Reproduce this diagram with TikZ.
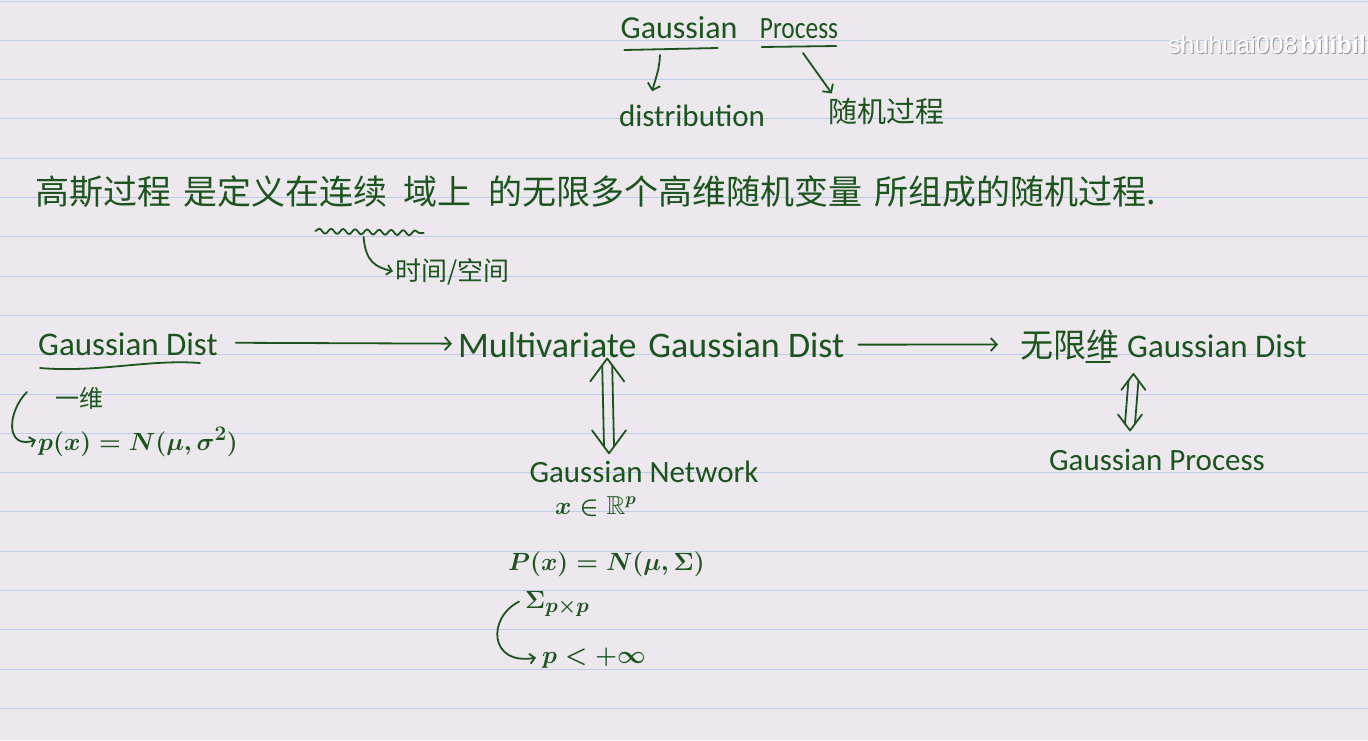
\documentclass[tikz,border=0pt]{standalone}
\usepackage{amssymb}
\usepackage{fontspec}
\setmainfont{Carlito}
\newfontfamily\cjk{Noto Sans CJK SC}
\newfontfamily\wmfont{Liberation Sans}
\usetikzlibrary{arrows.meta,calc,decorations.pathmorphing}
\definecolor{paper}{RGB}{236,232,237}
\definecolor{rulecol}{RGB}{190,204,234}
\definecolor{ink}{RGB}{28,84,30}
\definecolor{wmgray}{RGB}{150,150,150}
\newcommand{\fsz}[1]{\fontsize{#1}{#1}\selectfont}
\newcommand{\updown}[4]{%
  \draw[pen] ($(#1)+(-5,7)$) -- ($(#2)+(-5,-7)$);
  \draw[pen] ($(#1)+(5,7)$) -- ($(#2)+(5,-7)$);
  \draw[pen] ($(#1)+(-#3,#4)$) -- (#1) -- ($(#1)+(#3,#4)$);
  \draw[pen] ($(#2)+(-#3,-#4)$) -- (#2) -- ($(#2)+(#3,-#4)$);
}
\begin{document}
\boldmath
\begin{tikzpicture}[x=1pt,y=-1pt,
  hw/.style={text=ink, inner sep=0pt},
  pen/.style={draw=ink, line width=1.8pt, line cap=round, line join=round},
  tip/.style={-{Straight Barb[length=6pt,width=13pt]}},
  smalltip/.style={-{Straight Barb[length=5pt,width=10pt]}},
]
\useasboundingbox (0,0) rectangle (1368,740);
\fill[paper] (0,0) rectangle (1368,740);
\foreach \k in {0,...,18} \draw[rulecol, line width=1pt] (0,{1+39.3*\k}) -- (1368,{1+39.3*\k});

% watermark
\node[font={\wmfont\fsz{25}}, text=wmgray, anchor=base west, inner sep=0pt] (wms) at (1169,54) {shuhuai008\hspace{3pt}\textbf{bilibili}};
\node[font={\wmfont\fsz{25}}, text=white, anchor=base west, inner sep=0pt] (wm) at (1168,53) {shuhuai008\hspace{3pt}\textbf{bilibili}};

% top: Gaussian Process
\node[hw, font=\fsz{32}, anchor=base] (gauss) at (679,38) {Gaussian};
\node[hw, font=\fsz{31}, anchor=base] (proc) at (799,38) {\scalebox{0.82}[1]{Process}};
\node[hw, font=\fsz{31}, anchor=base] (dist) at (692,126) {distribution};
\node[hw, font={\cjk\fsz{29}}, anchor=base] (sjgc) at (886,122) {随机过程};
\draw[pen] ($(gauss.base west)+(4,12)$) -- ($(gauss.base east)+(-20,10)$);
\draw[pen] ($(proc.base west)+(2,9)$) -- ($(proc.base east)+(-2,8)$);
\draw[pen,tip] ($(gauss.base)+(-19,17)$) .. controls ($(gauss.base)+(-20,30)$) .. ($(dist.north)+(-40,-13)$);
\draw[pen,tip] ($(proc.base)+(4,15)$) -- ($(sjgc.north west)+(4,-4)$);

% sentence
\node[hw, font={\cjk\fsz{34}}, anchor=base west] (s1) at (35,204) {高斯过程\hspace{12pt}是定义在};
\node[hw, font={\cjk\fsz{34}}, anchor=base west] (s2) at (s1.base east) {连续};
\node[hw, font={\cjk\fsz{34}}, anchor=base west] (s3) at (s2.base east) {\hspace{15pt}域上\hspace{18pt}的无限多个高维随机变量\hspace{12pt}所组成的随机过程.};
\draw[pen, decorate, decoration={snake, amplitude=2.5pt, segment length=12pt}] ($(s2.base west)+(-4,27)$) -- ($(s2.base east)+(36,29)$);
\node[hw, font={\cjk\fsz{26}}, anchor=base west] (tj) at (395,280) {时间/空间};
\draw[pen,smalltip] ($(s2.base)+(10,33)$) .. controls ($(s2.base)+(12,58)$) and ($(s2.base)+(22,63)$) .. ($(tj.west)+(-2,0)$);

% row 2
\node[hw, font=\fsz{33}, anchor=base west] (gd) at (38,355) {Gaussian Dist};
\draw[pen] ($(gd.base west)+(2,13)$) .. controls ($(gd.base west)+(60,18)$) and ($(gd.base west)+(110,4)$) .. ($(gd.base west)+(162,8)$);
\node[hw, font=\fsz{36}, anchor=base west] (mv) at (458,357) {Multivariate\hspace{12pt}Gaussian Dist};
\node[hw, font=\fsz{33}, anchor=base west] (inf) at (1020,357) {{\cjk 无限维}\hspace{8pt}Gaussian Dist};
\draw[pen] ($(inf.base west)+(66,5)$) -- ($(inf.base west)+(90,5)$);
\draw[pen,tip] ($(gd.east)+(18,-1)$) -- ($(mv.west)+(-6,-1)$);
\draw[pen,tip] ($(mv.east)+(14,0)$) -- ($(inf.west)+(-22,0)$);

% left: one-dim
\node[hw, font={\cjk\fsz{24}}, anchor=base west] (yw) at (55,407) {一维};
\node[hw, font=\fsz{28}, anchor=base west] (px) at (38,450) {$p(x)=N(\mu,\sigma^2)$};
\draw[pen,smalltip] ($(yw.west)+(-28,-6)$) .. controls ($(yw.west)+(-48,14)$) and ($(yw.west)+(-50,52)$) .. ($(px.west)+(-2,-2)$);

% middle column
\node[hw, font=\fsz{31}, anchor=base] (gn) at (644,482) {Gaussian Network};
\coordinate (ua) at ($(mv.south)+(-44,1)$);
\coordinate (ub) at ($(gn.north)+(-35,-7)$);
\updown{ua}{ub}{17}{23}
\node[hw, font=\fsz{26}, anchor=base west] (xr) at (555,514) {$x\in\mathbb{R}^p$};
\node[hw, font=\fsz{27}, anchor=base west] (pn) at (508,570) {$P(x)=N(\mu,\Sigma)$};
\node[hw, font=\fsz{28}, anchor=base west] (sig) at (525,608) {$\Sigma_{p\times p}$};
\node[hw, font=\fsz{28}, anchor=base west] (pinf) at (542,663) {$p<+\infty$};
\draw[pen,smalltip] ($(sig.west)+(-6,-2)$) .. controls ($(sig.west)+(-38,14)$) and ($(sig.west)+(-36,62)$) .. ($(pinf.west)+(-6,0)$);

% right column
\node[hw, font=\fsz{31}, anchor=base] (gp2) at (1157,470) {Gaussian Process};
\coordinate (va) at ($(inf.south)+(-30,14)$);
\coordinate (vb) at ($(gp2.north)+(-27,-18)$);
\updown{va}{vb}{12}{16}
\end{tikzpicture}
\end{document}
